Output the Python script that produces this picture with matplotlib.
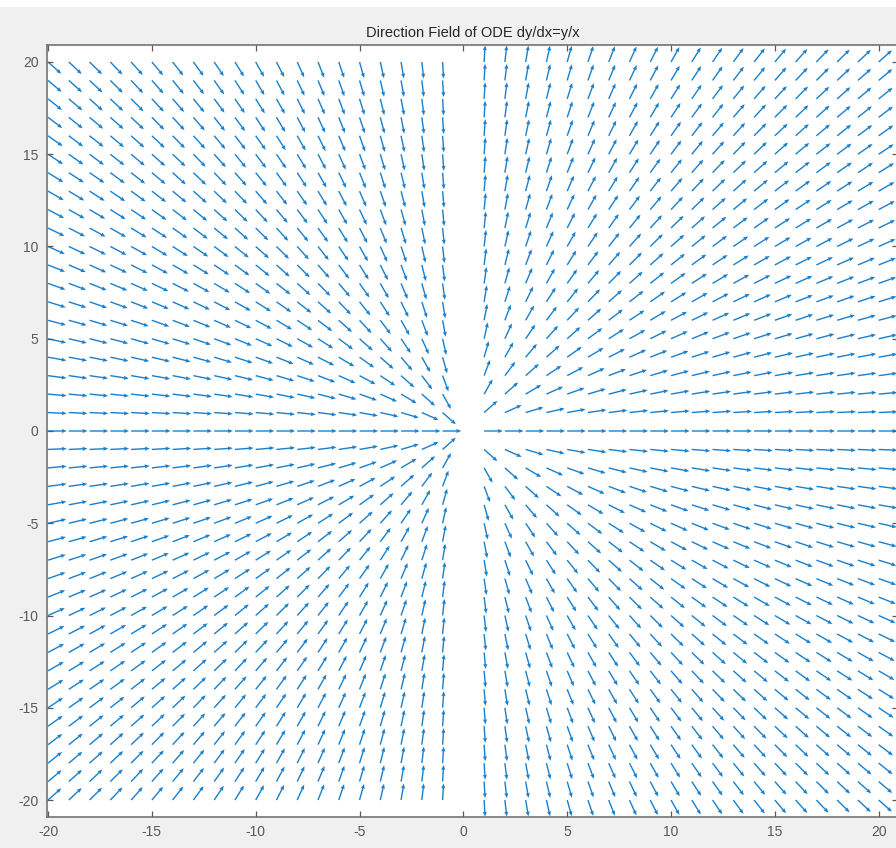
import numpy as np
import matplotlib
matplotlib.use("Agg")
import matplotlib.pyplot as plt
from matplotlib.patches import Rectangle

# Grid of the direction field
x_vals = list(range(-20, 21))
y_vals = list(range(-20, 21))
x_ticks = [-20, -15, -10, -5, 0, 5, 10, 15, 20]
y_ticks = [-20, -15, -10, -5, 0, 5, 10, 15, 20]
title_text = "Direction Field of ODE dy/dx=y/x"

X, Y = np.meshgrid(np.array(x_vals, float), np.array(y_vals, float))
with np.errstate(divide="ignore", invalid="ignore"):
    S = Y / X
    N = np.sqrt(1.0 + S**2)
    U = 1.0 / N
    V = S / N
U = np.ma.masked_invalid(U)
V = np.ma.masked_invalid(V)

plt.rcParams["font.family"] = ["Liberation Sans", "DejaVu Sans"]
plt.rcParams["axes.unicode_minus"] = False
fig = plt.figure(figsize=(8.96, 8.48), dpi=100, facecolor="#f0f0f0")
fig.patches.append(Rectangle((0, 1 - 7 / 848), 1, 7 / 848, transform=fig.transFigure,
                             facecolor="white", edgecolor="none", zorder=-1))
ax = fig.add_axes([47 / 896, 1 - 817 / 848, 1 - 47 / 896 + 0.002, (817 - 45) / 848])
ax.set_facecolor("white")

ax.quiver(X, Y, U, V, angles="xy", scale_units="xy", scale=1 / 0.9, pivot="tail",
          color=(0.1, 0.5, 0.8), units="dots", width=1.4, headwidth=3.0,
          headlength=3.6, headaxislength=3.2)

ax.set_xlim(-20.05, 20.92)
ax.set_ylim(-20.92, 20.92)
ax.set_xticks(x_ticks)
ax.set_yticks(y_ticks)
ax.tick_params(direction="in", length=4, width=0.9, colors=(0.35, 0.35, 0.35),
               labelsize=10, top=True, right=True, pad=6)
for sp in ax.spines.values():
    sp.set_color((0.45, 0.45, 0.45))
    sp.set_linewidth(1.2)
ax.set_title(title_text, fontsize=10.5, color=(0.15, 0.15, 0.15), pad=6)

fig.savefig("out.png", dpi=100, facecolor=fig.get_facecolor())
